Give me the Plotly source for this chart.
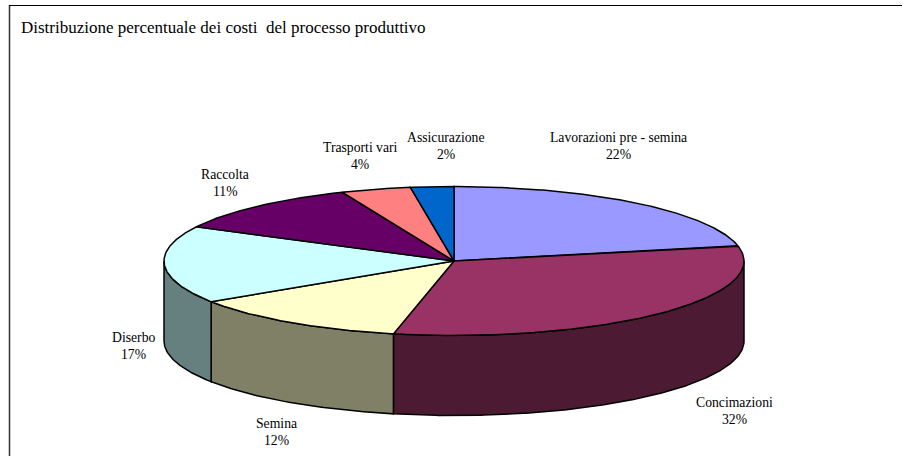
import numpy as np
import plotly.graph_objects as go

categories = ["Lavorazioni pre - semina", "Concimazioni", "Semina", "Diserbo",
              "Raccolta", "Trasporti vari", "Assicurazione"]
shares = [21.7, 31.65, 12.45, 16.8, 11.1, 3.9, 2.4]
top_colors = ["#9999FF", "#993366", "#FFFFCC", "#CCFFFF", "#660066", "#FF8080", "#0066CC"]
side_colors = ["#4D4D80", "#4D1A33", "#808066", "#668080", "#330033", "#804040", "#003366"]
title = "Distribuzione percentuale dei costi  del processo produttivo"

W, H = 903, 456
CX, CY, RX, RY, DEPTH = 454, 261, 290, 74.5, 80
FONT = "Liberation Serif"
LABEL_CENTERS = [(618, 137), (734, 402), (276, 423), (133, 337), (225, 174), (360, 147), (446, 137)]
LINE_GAP = 17.5


def rim(a0, a1, dy=0.0):
    n = max(2, int(abs(a1 - a0)) * 2 + 2)
    t = np.radians(np.linspace(a0, a1, n))
    return CX + RX * np.sin(t), CY - RY * np.cos(t) + dy


total = sum(shares)
edges = np.concatenate([[0], np.cumsum(shares)]) / total * 360
line = dict(color="black", width=1.5)
fig = go.Figure()

# side walls (only the front half of the disc is visible)
for i, name in enumerate(categories):
    a0, a1 = max(edges[i], 90), min(edges[i + 1], 270)
    if a1 <= a0:
        continue
    ux, uy = rim(a0, a1)
    lx, ly = rim(a1, a0, DEPTH)
    fig.add_trace(go.Scatter(x=np.r_[ux, lx, ux[0]], y=np.r_[uy, ly, uy[0]], mode="lines",
                             fill="toself", fillcolor=side_colors[i], line=line,
                             name=name, hoverinfo="skip", showlegend=False))

# top face
for i, name in enumerate(categories):
    ax, ay = rim(edges[i], edges[i + 1])
    fig.add_trace(go.Scatter(x=np.r_[CX, ax, CX], y=np.r_[CY, ay, CY], mode="lines",
                             fill="toself", fillcolor=top_colors[i], line=line,
                             name=name, hoverinfo="name", showlegend=False))

notes = []
for name, s, (x, y) in zip(categories, shares, LABEL_CENTERS):
    for text, yy in ((name, y), (f"{round(s / total * 100)}%", y + LINE_GAP)):
        notes.append(dict(x=x, y=yy, xref="x", yref="y", text=text, showarrow=False,
                          xanchor="center", yanchor="middle",
                          font=dict(family=FONT, size=13.7, color="black")))
notes.append(dict(x=18.5, y=27, xref="x", yref="y", text=title.replace("  ", " &nbsp;"), showarrow=False,
                  xanchor="left", yanchor="middle", font=dict(family=FONT, size=17, color="black")))

fig.update_layout(
    width=W, height=H, margin=dict(l=0, r=0, t=0, b=0), autosize=False,
    paper_bgcolor="white", plot_bgcolor="white", showlegend=False, annotations=notes,
    xaxis=dict(range=[0, W], visible=False, fixedrange=True),
    yaxis=dict(range=[H, 0], visible=False, fixedrange=True),
    shapes=[
        dict(type="line", xref="x", yref="y", x0=9.5, x1=9.5, y0=5, y1=H, line=dict(color="#333333", width=1.5)),
        dict(type="line", xref="x", yref="y", x0=9, x1=902, y0=5.5, y1=5.5, line=dict(color="black", width=1.2)),
    ],
)
fig.write_html("out.html", config=dict(displayModeBar=False),
               post_script="document.body.style.margin='0';document.documentElement.style.overflow='hidden';")
